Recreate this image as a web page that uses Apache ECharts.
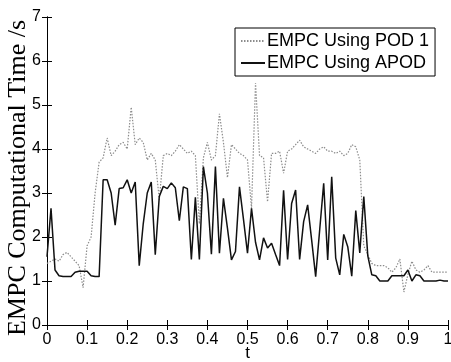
<!DOCTYPE html>
<html>
<head>
<meta charset="utf-8">
<script src="https://cdn.jsdelivr.net/npm/echarts@6/dist/echarts.min.js"></script>
<style>
html,body{margin:0;padding:0;background:#fff;}
#chart{width:451px;height:362px;}
</style>
</head>
<body>
<div id="chart"></div>
<script>
const tValues = [0.00,0.01,0.02,0.03,0.04,0.05,0.06,0.07,0.08,0.09,
0.10,0.11,0.12,0.13,0.14,0.15,0.16,0.17,0.18,0.19,
0.20,0.21,0.22,0.23,0.24,0.25,0.26,0.27,0.28,0.29,
0.30,0.31,0.32,0.33,0.34,0.35,0.36,0.37,0.38,0.39,
0.40,0.41,0.42,0.43,0.44,0.45,0.46,0.47,0.48,0.49,
0.50,0.51,0.52,0.53,0.54,0.55,0.56,0.57,0.58,0.59,
0.60,0.61,0.62,0.63,0.64,0.65,0.66,0.67,0.68,0.69,
0.70,0.71,0.72,0.73,0.74,0.75,0.76,0.77,0.78,0.79,
0.80,0.81,0.82,0.83,0.84,0.85,0.86,0.87,0.88,0.89,
0.90,0.91,0.92,0.93,0.94,0.95,0.96,0.97,0.98,0.99,1.00];

const pod1Values = [1.40,1.45,1.50,1.45,1.60,1.65,1.55,1.45,1.35,0.85,
1.80,2.00,3.00,3.70,3.80,4.25,3.85,3.95,4.10,4.15,
4.00,4.95,4.10,4.25,4.15,3.75,3.90,3.75,2.85,3.85,
3.90,3.85,3.95,4.10,4.00,3.90,3.95,3.85,2.30,3.80,
4.15,3.75,3.85,4.80,4.15,3.35,4.10,4.00,3.90,3.85,
3.75,2.65,5.50,3.85,3.80,2.80,3.90,3.90,3.95,3.45,
3.95,4.00,4.10,4.20,4.05,4.00,3.95,3.90,4.00,4.05,
3.95,3.95,3.90,3.95,3.85,3.90,4.10,4.05,3.75,1.80,
1.60,1.40,1.35,1.35,1.35,1.30,1.20,1.30,1.50,0.75,
1.15,1.45,1.25,1.20,1.25,1.35,1.20,1.20,1.20,1.20,1.20];

const apodValues = [1.55,2.65,1.25,1.12,1.10,1.10,1.10,1.20,1.22,1.22,
1.22,1.12,1.10,1.10,3.30,3.30,3.00,2.27,3.10,3.12,
3.30,3.00,3.25,1.35,2.30,3.00,3.25,1.60,2.92,3.15,
3.10,3.23,3.12,2.37,3.14,3.10,1.49,2.90,1.49,3.60,
3.00,1.61,3.60,1.63,2.88,2.20,1.48,1.67,3.14,2.40,
1.63,2.65,1.88,1.48,1.98,1.75,1.86,1.60,1.35,3.06,
1.49,2.76,3.07,1.49,2.35,2.73,1.93,1.10,2.16,3.22,
1.48,3.37,1.52,1.14,2.06,1.78,1.11,2.60,1.64,2.92,
1.57,1.14,1.12,1.00,1.00,1.00,1.12,1.12,1.12,1.12,
1.25,1.00,1.14,1.12,1.00,1.00,1.00,1.00,1.02,1.00,1.00];

const seriesNames = ['EMPC Using POD 1','EMPC Using APOD'];
const xTickLabels = ['0','0.1','0.2','0.3','0.4','0.5','0.6','0.7','0.8','0.9','1'];
const yTickLabels = ['0','1','2','3','4','5','6','7'];
const xAxisTitle = 't';
const yAxisTitle = 'EMPC Computational Time /s';

const sans = 'Liberation Sans, Arial, Helvetica, sans-serif';
const serif = 'Liberation Serif, Times New Roman, serif';

const chart = echarts.init(document.getElementById('chart'), null, {renderer:'canvas'});

const tickStyle = {inside:true, length:5, lineStyle:{color:'#000', width:1}};
const lineStyle = {lineStyle:{color:'#000', width:1}};

const option = {
  animation:false,
  backgroundColor:'#fff',
  grid:{left:47, right:3, top:17, bottom:37, containLabel:false, outerBoundsMode:'none'},
  legend:{
    data:seriesNames,
    orient:'vertical',
    left:235, top:28,
    padding:[3,6,3,5],
    itemGap:2,
    itemWidth:24, itemHeight:14,
    borderColor:'#000', borderWidth:1,
    backgroundColor:'#fff',
    itemStyle:{opacity:0},
    textStyle:{fontSize:18, fontFamily:sans, color:'#000', lineHeight:20, padding:[0,0,0,-3]}
  },
  xAxis:[{
    type:'value', min:0, max:1, interval:0.1,
    axisLine:lineStyle, axisTick:tickStyle, splitLine:{show:false},
    axisLabel:{color:'#000', fontSize:16, fontFamily:sans, margin:7,
      formatter:function(v){return xTickLabels[Math.round(v*10)];}},
    name:xAxisTitle, nameLocation:'middle', nameGap:20, nameMoveOverlap:false,
    nameTextStyle:{color:'#000', fontSize:17, fontFamily:sans}
  },{
    type:'value', min:0, max:1, interval:0.1, position:'top',
    axisLine:lineStyle, axisTick:tickStyle, splitLine:{show:false},
    axisLabel:{show:false}
  }],
  yAxis:[{
    type:'value', min:0, max:7, interval:1,
    axisLine:lineStyle, axisTick:tickStyle, splitLine:{show:false},
    axisLabel:{color:'#000', fontSize:16, fontFamily:sans, margin:6,
      formatter:function(v){return yTickLabels[Math.round(v)];}},
    name:yAxisTitle, nameLocation:'middle', nameGap:16, nameMoveOverlap:false,
    nameTextStyle:{color:'#000', fontSize:26, fontFamily:serif, padding:[0,14,0,0]}
  },{
    type:'value', min:0, max:7, interval:1, position:'right',
    axisLine:lineStyle, axisTick:tickStyle, splitLine:{show:false},
    axisLabel:{show:false}
  }],
  series:[{
    name:seriesNames[0], type:'line', symbol:'none',
    xAxisIndex:0, yAxisIndex:0,
    data:tValues.map(function(t,i){return [t,pod1Values[i]];}),
    lineStyle:{color:'#8c8c8c', width:1.2, type:[1.5,1.5]},
    itemStyle:{color:'#8c8c8c'}
  },{
    name:seriesNames[1], type:'line', symbol:'none',
    xAxisIndex:0, yAxisIndex:0,
    data:tValues.map(function(t,i){return [t,apodValues[i]];}),
    lineStyle:{color:'#111', width:1.5},
    itemStyle:{color:'#111'}
  }]
};
chart.setOption(option);
</script>
</body>
</html>
